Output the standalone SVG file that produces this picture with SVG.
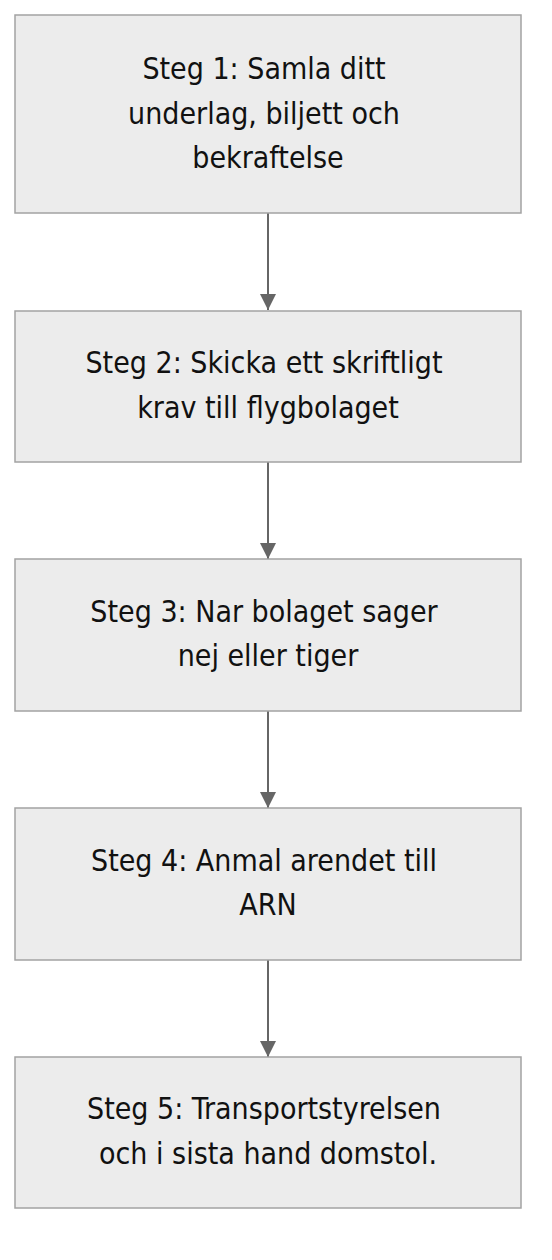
<svg xmlns="http://www.w3.org/2000/svg" width="552" height="1260" viewBox="0 0 552 1260">
<style>
.box{fill:#ececec;stroke:#a3a3a3;stroke-width:1.5}
.lbl{font-family:"DejaVu Sans Condensed","DejaVu Sans",Verdana,sans-serif;font-size:30px;fill:#111;text-anchor:middle}
.edge{stroke:#666;stroke-width:2;fill:none}
</style>
<defs>
<marker id="arrow" viewBox="0 0 10 10" refX="10" refY="5" markerUnits="userSpaceOnUse" markerWidth="16" markerHeight="16" orient="auto">
<path d="M0,0 L10,5 L0,10 z" fill="#666"/>
</marker>
</defs>
<rect width="552" height="1260" fill="#ffffff"/>
<g id="connectors">
<line class="edge" x1="268" y1="213" x2="268" y2="310" marker-end="url(#arrow)"/>
<line class="edge" x1="268" y1="462" x2="268" y2="559" marker-end="url(#arrow)"/>
<line class="edge" x1="268" y1="711" x2="268" y2="808" marker-end="url(#arrow)"/>
<line class="edge" x1="268" y1="960" x2="268" y2="1057" marker-end="url(#arrow)"/>
</g>
<g id="step1">
<rect class="box" x="15" y="15" width="506" height="198"/>
<text class="lbl"><tspan x="264" y="79">Steg 1: Samla ditt</tspan><tspan x="264" y="123.5">underlag, biljett och</tspan><tspan x="268" y="168">bekraftelse</tspan></text>
</g>
<g id="step2">
<rect class="box" x="15" y="311" width="506" height="151"/>
<text class="lbl"><tspan x="264" y="373">Steg 2: Skicka ett skriftligt</tspan><tspan x="268" y="417.5">krav till flygbolaget</tspan></text>
</g>
<g id="step3">
<rect class="box" x="15" y="559" width="506" height="152"/>
<text class="lbl"><tspan x="264" y="621.5">Steg 3: Nar bolaget sager</tspan><tspan x="268" y="666">nej eller tiger</tspan></text>
</g>
<g id="step4">
<rect class="box" x="15" y="808" width="506" height="152"/>
<text class="lbl"><tspan x="264" y="870.5">Steg 4: Anmal arendet till</tspan><tspan x="268" y="915">ARN</tspan></text>
</g>
<g id="step5">
<rect class="box" x="15" y="1057" width="506" height="151"/>
<text class="lbl"><tspan x="264" y="1119">Steg 5: Transportstyrelsen</tspan><tspan x="268" y="1163.5">och i sista hand domstol.</tspan></text>
</g>
</svg>
